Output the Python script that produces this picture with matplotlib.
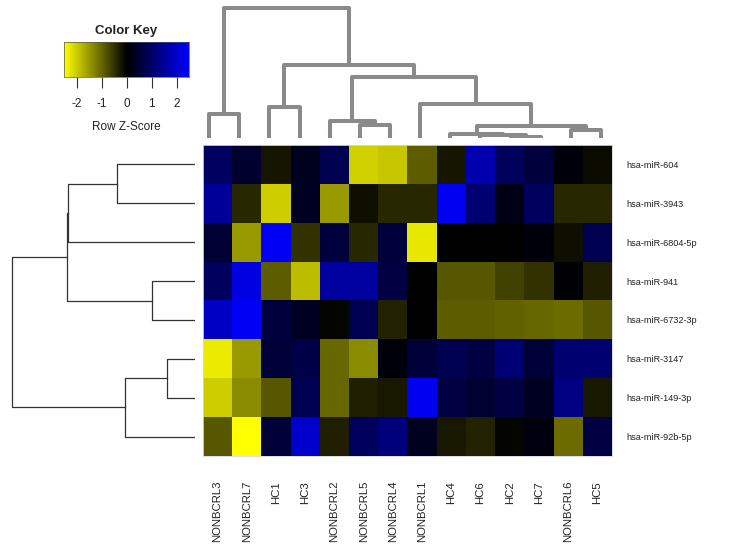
"""Heatmap of row z-scores with row/column dendrograms (heatmap.2 style)."""
import matplotlib
matplotlib.use("Agg")
import matplotlib.pyplot as plt
from matplotlib.colors import LinearSegmentedColormap
import numpy as np

plt.rcParams["font.family"] = ["Liberation Sans", "DejaVu Sans"]

# ── data ────────────────────────────────────────────────────────────────────
samples = ["NONBCRL3", "NONBCRL7", "HC1", "HC3", "NONBCRL2", "NONBCRL5",
           "NONBCRL4", "NONBCRL1", "HC4", "HC6", "HC2", "HC7", "NONBCRL6", "HC5"]
mirnas = ["hsa-miR-604", "hsa-miR-3943", "hsa-miR-6804-5p", "hsa-miR-941",
          "hsa-miR-6732-3p", "hsa-miR-3147", "hsa-miR-149-3p", "hsa-miR-92b-5p"]

z_604     = [0.95, 0.45, -0.20, 0.30, 0.80, -2.05, -1.95, -0.90, -0.20, 1.70, 0.90, 0.60, 0.10, -0.10]
z_3943    = [1.50, -0.40, -2.00, 0.35, -1.50, -0.15, -0.40, -0.40, 2.35, 1.10, 0.20, 0.90, -0.40, -0.40]
z_6804_5p = [0.50, -1.50, 2.40, -0.50, 0.60, -0.40, 0.60, -2.25, 0.00, 0.00, 0.00, 0.10, -0.15, 0.80]
z_941     = [0.90, 2.20, -0.90, -1.85, 1.55, 1.55, 0.65, 0.00, -0.85, -0.85, -0.65, -0.50, 0.05, -0.30]
z_6732_3p = [1.90, 2.40, 0.60, 0.35, -0.05, 0.80, -0.35, 0.00, -0.90, -0.90, -0.95, -1.00, -1.05, -0.85]
z_3147    = [-2.30, -1.50, 0.55, 0.70, -1.00, -1.35, 0.10, 0.55, 0.80, 0.65, 1.15, 0.55, 1.10, 1.10]
z_149_3p  = [-2.00, -1.35, -0.85, 0.80, -1.00, -0.30, -0.25, 2.35, 0.65, 0.50, 0.65, 0.35, 1.25, -0.25]
z_92b_5p  = [-0.85, -2.50, 0.55, 2.00, -0.30, 0.90, 1.20, 0.30, -0.25, -0.35, -0.05, 0.15, -1.05, 0.65]

# dendrogram merges: (child a, child b, height); children >= n are earlier merges
col_merges = [(0, 1, 24.2), (2, 3, 31.5), (5, 6, 13.5), (4, 16, 16.8),
              (10, 11, 1.0), (9, 18, 2.7), (8, 19, 4.3), (12, 13, 8.5),
              (20, 21, 11.8), (7, 22, 34.2), (17, 23, 60.8), (15, 24, 73.5),
              (14, 25, 130.2)]
row_merges = [(0, 1, 78.3), (8, 2, 126.7), (3, 4, 43.3), (9, 10, 127.7),
              (5, 6, 28.3), (12, 7, 70.0), (11, 13, 182.7)]

key_ticks = [-2, -1, 0, 1, 2]

# ── colours ────────────────────────────────────────────────────────────────
C_INK = "#222222"
C_COLDEN = "#8a8a8a"
C_ROWDEN = "#333333"
cmap = LinearSegmentedColormap.from_list("yk_b", ["#ffff00", "#000000", "#0000ff"])
VMIN, VMAX = -2.5, 2.5

W, H = 730, 556


def fig_ax(fig, x0, y0, x1, y1):
    """Axes from pixel box (top-left origin)."""
    return fig.add_axes([x0 / W, 1 - y1 / H, (x1 - x0) / W, (y1 - y0) / H])


def draw_dendro(ax, merges, n, orient, **kw):
    pos = list(range(n))
    hgt = [0.0] * n
    for a, b, h in merges:
        pa, pb = pos[a], pos[b]
        ha, hb = hgt[a], hgt[b]
        if orient == "top":
            ax.plot([pa, pa, pb, pb], [ha, h, h, hb], **kw)
        else:
            ax.plot([ha, h, h, hb], [pa, pa, pb, pb], **kw)
        pos.append((pa + pb) / 2)
        hgt.append(h)


def main():
    data = np.array([z_604, z_3943, z_6804_5p, z_941, z_6732_3p,
                     z_3147, z_149_3p, z_92b_5p])

    fig = plt.figure(figsize=(W / 100, H / 100), dpi=100, facecolor="white")

    # heatmap
    ax = fig_ax(fig, 203, 145, 612, 456)
    ax.imshow(data, cmap=cmap, vmin=VMIN, vmax=VMAX, aspect="auto",
              interpolation="nearest")
    ax.set_xticks(range(len(samples)))
    ax.set_xticklabels(samples, rotation=90, fontsize=8.2, color=C_INK, va="top")
    ax.set_yticks(range(len(mirnas)))
    ax.set_yticklabels(mirnas, fontsize=6.6, color=C_INK)
    ax.yaxis.tick_right()
    ax.tick_params(axis="x", length=0, pad=18)
    ax.tick_params(axis="y", length=0, pad=10)
    for sp in ax.spines.values():
        sp.set_color("#d8d8e4")
        sp.set_linewidth(0.6)

    # column dendrogram
    axc = fig_ax(fig, 194, 4, 616, 138)
    draw_dendro(axc, col_merges, len(samples), "top",
                color=C_COLDEN, lw=2.9, solid_capstyle="butt")
    axc.set_xlim(-0.5, len(samples) - 0.5)
    axc.set_ylim(0, 134)
    axc.axis("off")

    # row dendrogram
    axr = fig_ax(fig, 0, 145, 195, 456)
    draw_dendro(axr, row_merges, len(mirnas), "left", color=C_ROWDEN, lw=0.9)
    axr.set_xlim(195, 0)
    axr.set_ylim(len(mirnas) - 0.5, -0.5)
    axr.axis("off")

    # colour key
    axk = fig_ax(fig, 64, 42, 189, 77)
    grad = np.linspace(VMIN, VMAX, 256)[None, :]
    axk.imshow(grad, cmap=cmap, vmin=VMIN, vmax=VMAX, aspect="auto",
               extent=[VMIN, VMAX, 0, 1])
    axk.set_xlim(VMIN, VMAX)
    axk.set_yticks([])
    axk.set_xticks(key_ticks)
    axk.set_xticklabels([str(t) for t in key_ticks], fontsize=8.5, color=C_INK)
    axk.tick_params(axis="x", length=8, width=0.8, color="#333333", pad=7)
    axk.set_xlabel("Row Z-Score", fontsize=8.5, color=C_INK, labelpad=8)
    axk.set_title("Color Key", fontsize=9.5, fontweight="bold", color=C_INK, pad=6)
    for sp in axk.spines.values():
        sp.set_color("#555555")
        sp.set_linewidth(0.5)

    fig.savefig("out.png", dpi=100, facecolor="white")
    plt.close(fig)


if __name__ == "__main__":
    main()
